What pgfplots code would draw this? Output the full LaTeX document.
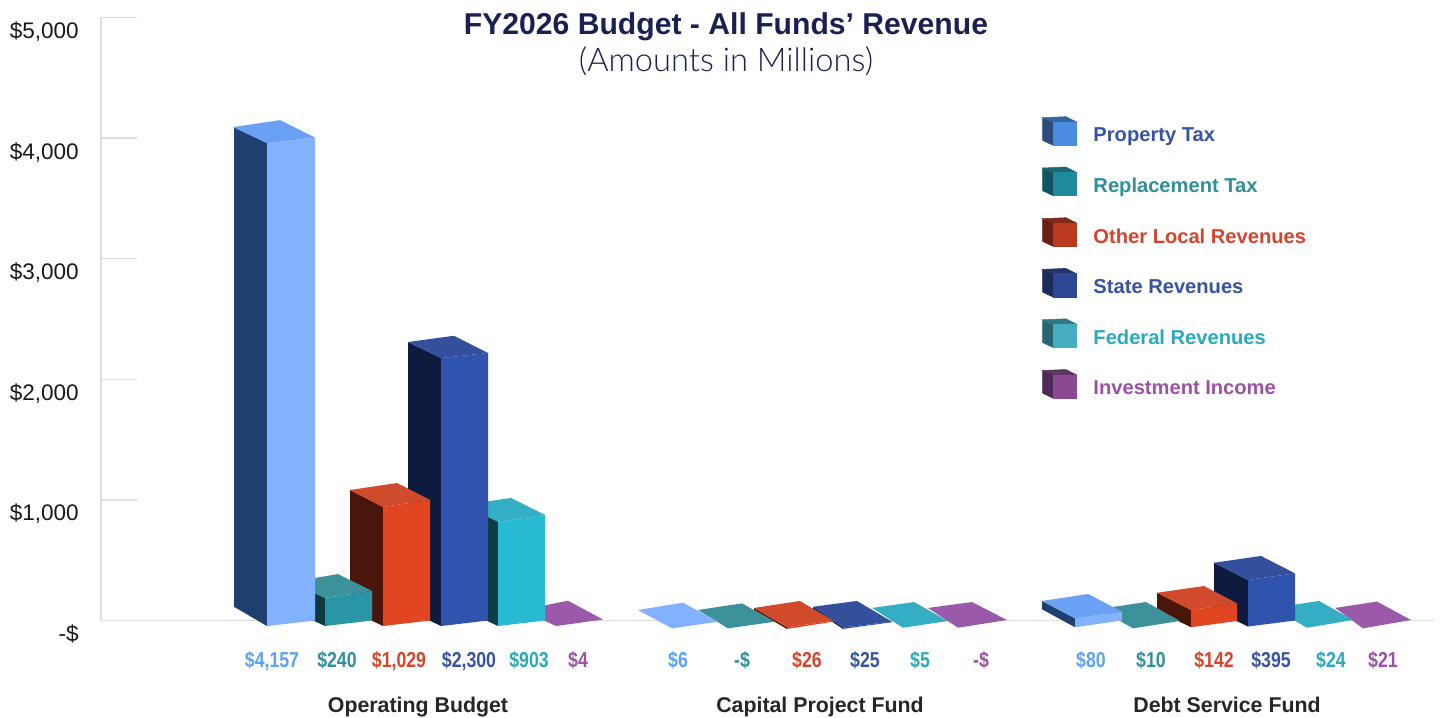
\documentclass[border=0pt]{standalone}
\usepackage{fontspec}
\usepackage{xcolor}
\usepackage{pgfplots}
\pgfplotsset{compat=1.18}
\setmainfont{Liberation Sans}
\newfontfamily\condb[FakeStretch=0.82]{Liberation Sans Bold}
\newfontfamily\lightf{Lato Light}

\definecolor{gridgray}{HTML}{DEDEDE}
\definecolor{navy}{HTML}{1A2152}
% bars: front / side / top
\definecolor{lbF}{HTML}{82B1FF}\definecolor{lbS}{HTML}{1F3F6E}\definecolor{lbT}{HTML}{6BA1F5}
\definecolor{teF}{HTML}{2B95A8}\definecolor{teS}{HTML}{0E3A3E}\definecolor{teT}{HTML}{3C919B}
\definecolor{reF}{HTML}{E24522}\definecolor{reS}{HTML}{4A150A}\definecolor{reT}{HTML}{D04A2C}
\definecolor{blF}{HTML}{3053AE}\definecolor{blS}{HTML}{0F1B3E}\definecolor{blT}{HTML}{34509C}
\definecolor{cyF}{HTML}{27BAD3}\definecolor{cyS}{HTML}{0E3E45}\definecolor{cyT}{HTML}{33AEC2}
\definecolor{puT}{HTML}{9B59AB}
% legend cubes
\definecolor{k1F}{HTML}{4A8DE0}\definecolor{k1S}{HTML}{2A4D7E}\definecolor{k1T}{HTML}{33659F}
\definecolor{k2F}{HTML}{1F8A9C}\definecolor{k2S}{HTML}{145460}\definecolor{k2T}{HTML}{1C6975}
\definecolor{k3F}{HTML}{B93A20}\definecolor{k3S}{HTML}{6B2014}\definecolor{k3T}{HTML}{7E2A17}
\definecolor{k4F}{HTML}{2E4793}\definecolor{k4S}{HTML}{1B2A5A}\definecolor{k4T}{HTML}{233567}
\definecolor{k5F}{HTML}{46ADC0}\definecolor{k5S}{HTML}{2A6672}\definecolor{k5T}{HTML}{307784}
\definecolor{k6F}{HTML}{8B4A8F}\definecolor{k6S}{HTML}{4E2A56}\definecolor{k6T}{HTML}{5B3462}
% text
\definecolor{lbL}{HTML}{5BA2F5}
\definecolor{teL}{HTML}{2F8F9C}
\definecolor{reL}{HTML}{D8432A}
\definecolor{blL}{HTML}{3753A8}
\definecolor{cyL}{HTML}{2AA9BD}
\definecolor{puL}{HTML}{9B52A5}

\pgfplotsset{
  face/.style={draw=none, fill=#1, forget plot, mark=none},
  cube/.style={legend image code/.code={
    \begin{scope}[yshift=1.75pt]
    \fill[#1S] (0pt,-5pt) -- (0pt,12pt) -- (8pt,8.75pt) -- (8pt,-8.75pt) -- cycle;
    \fill[#1T] (0pt,12pt) -- (17.5pt,12.75pt) -- (25.5pt,8.75pt) -- (8pt,8.75pt) -- cycle;
    \fill[#1F] (8pt,-8.75pt) rectangle (25.5pt,8.75pt);
    \end{scope}
  }},
}

\begin{document}
\begin{tikzpicture}
\useasboundingbox (0,0) rectangle (1080.75pt,537.75pt);
\begin{axis}[
    at={(75.75pt,72.375pt)}, anchor=south west,
    scale only axis, width=1000.5pt, height=452.25pt,
    xmin=101, xmax=1435, ymin=0, ymax=5000,
    clip=false,
    axis lines=left,
    axis line style={-, draw=gridgray, line width=1pt},
    tick align=inside,
    major tick length=27pt,
    x tick style={draw=none},
    y tick style={draw=gridgray, line width=1pt},
    ytick={0,1000,2000,3000,4000,5000},
    yticklabels={-\$,{\$1,000},{\$2,000},{\$3,000},{\$4,000},{\$5,000}},
    yticklabel style={anchor=base east, inner sep=0pt, xshift=-16.5pt, yshift=-15.8pt, font=\fontsize{16.9pt}{20pt}\selectfont, text=black!90},
    xtick={272,337,399,469,529,578,678,742,807,865,920,981,1091,1151,1214,1271,1331,1383},
    xticklabels={
      \textcolor{lbL}{\$4,157},\textcolor{teL}{\$240},\textcolor{reL}{\$1,029},\textcolor{blL}{\$2,300},\textcolor{cyL}{\$903},\textcolor{puL}{\$4},
      \textcolor{lbL}{\$6},\textcolor{teL}{-\$},\textcolor{reL}{\$26},\textcolor{blL}{\$25},\textcolor{cyL}{\$5},\textcolor{puL}{-\$},
      \textcolor{lbL}{\$80},\textcolor{teL}{\$10},\textcolor{reL}{\$142},\textcolor{blL}{\$395},\textcolor{cyL}{\$24},\textcolor{puL}{\$21}},
    xticklabel style={anchor=base, inner sep=0pt, yshift=-35.6pt, font=\condb\fontsize{16.2pt}{18pt}\selectfont},
    extra x ticks={418,820,1227},
    extra x tick labels={Operating Budget,Capital Project Fund,Debt Service Fund},
    extra x tick style={xticklabel style={anchor=base, inner sep=0pt, yshift=-33.4pt, font=\bfseries\fontsize{16pt}{18pt}\selectfont, text=black!85}},
    title={{\bfseries\fontsize{22.6pt}{27pt}\selectfont FY2026 Budget - All Funds’ Revenue}\\[3.5pt]{\lightf\fontsize{24.5pt}{28pt}\selectfont (Amounts in Millions)}},
    title style={at={(0.4685,1)}, anchor=north, align=center, text=navy, inner sep=0pt, yshift=-2pt},
    legend style={at={(axis cs:1042,4182)}, anchor=north west, draw=none, fill=none, inner sep=0pt,
      row sep=15.1pt, font=\bfseries\fontsize{15.1pt}{18pt}\selectfont,
      /tikz/every odd column/.append style={column sep=10.5pt}},
    legend cell align=left,
]
% legend
\addlegendimage{cube=k1}
\addlegendentry{\textcolor{blL}{Property Tax}}
\addlegendimage{cube=k2}
\addlegendentry{\textcolor{teL}{Replacement Tax}}
\addlegendimage{cube=k3}
\addlegendentry{\textcolor{reL}{Other Local Revenues}}
\addlegendimage{cube=k4}
\addlegendentry{\textcolor{blL}{State Revenues}}
\addlegendimage{cube=k5}
\addlegendentry{\textcolor{cyL}{Federal Revenues}}
\addlegendimage{cube=k6}
\addlegendentry{\textcolor{puL}{Investment Income}}

% Debt Service Fund, right to left
\addplot[face=puT] coordinates {(1363,-65) (1411,4) (1377,157) (1335,104)};
\addplot[face=cyT] coordinates {(1307,-60) (1353,4) (1319,162) (1273,104)};
\addplot[face=blS] coordinates {(1214,87) (1214,479) (1248,336) (1248,-50)};
\addplot[face=blF] coordinates {(1248,-50) (1295,0) (1295,391) (1248,336)};
\addplot[face=blT] coordinates {(1248,336) (1295,391) (1261,535) (1214,479)};
\addplot[face=reS] coordinates {(1157,81) (1157,230) (1191,87) (1191,-56)};
\addplot[face=reF] coordinates {(1191,-56) (1237,-4) (1237,143) (1191,87)};
\addplot[face=reT] coordinates {(1191,87) (1237,143) (1204,286) (1157,230)};
\addplot[face=teT] coordinates {(1133,-65) (1180,-4) (1146,153) (1099,95)};
\addplot[face=lbS] coordinates {(1042,93) (1042,162) (1075,18) (1075,-56)};
\addplot[face=lbF] coordinates {(1075,-56) (1122,0) (1122,73) (1075,18)};
\addplot[face=lbT] coordinates {(1075,18) (1122,73) (1088,220) (1042,162)};

% Capital Project Fund
\addplot[face=puT] coordinates {(958,-60) (1007,4) (972,153) (928,104)};
\addplot[face=cyT] coordinates {(903,-60) (948,-4) (914,153) (872,104)};
\addplot[face=blS] coordinates {(813,95) (813,114) (843,-58) (843,-70)};
\addplot[face=blF] coordinates {(843,-70) (892,-14) (892,-10) (843,-58)};
\addplot[face=blT] coordinates {(843,-58) (892,-10) (857,162) (813,114)};
\addplot[face=reS] coordinates {(754,87) (754,104) (787,-56) (787,-70)};
\addplot[face=reF] coordinates {(787,-70) (833,-10) (833,-2) (787,-56)};
\addplot[face=reT] coordinates {(787,-56) (833,-2) (800,162) (754,104)};
\addplot[face=teT] coordinates {(728,-65) (775,-10) (742,142) (698,87)};
\addplot[face=lbF] coordinates {(672,-65) (718,-10) (683,148) (638,87)};

% Operating Budget
\addplot[face=puT] coordinates {(556,-46) (603,8) (568,164) (522,87)};
\addplot[face=cyS] coordinates {(464,87) (464,958) (498,819) (498,-46)};
\addplot[face=cyF] coordinates {(498,-46) (545,0) (545,875) (498,819)};
\addplot[face=cyT] coordinates {(498,819) (545,875) (511,1016) (464,958)};
\addplot[face=blS] coordinates {(408,87) (408,2309) (441,2176) (441,-46)};
\addplot[face=blF] coordinates {(441,-46) (488,0) (488,2218) (441,2176)};
\addplot[face=blT] coordinates {(441,2176) (488,2218) (454,2361) (408,2309)};
\addplot[face=reS] coordinates {(350,87) (350,1082) (383,941) (383,-46)};
\addplot[face=reF] coordinates {(383,-46) (430,0) (430,1000) (383,941)};
\addplot[face=reT] coordinates {(383,941) (430,1000) (397,1140) (350,1082)};
\addplot[face=teS] coordinates {(291,87) (291,319) (325,187) (325,-46)};
\addplot[face=teF] coordinates {(325,-46) (372,0) (372,245) (325,187)};
\addplot[face=teT] coordinates {(325,187) (372,245) (338,385) (291,319)};
\addplot[face=lbS] coordinates {(234,114) (234,4091) (267,3958) (267,-46)};
\addplot[face=lbF] coordinates {(267,-46) (315,0) (315,4005) (267,3958)};
\addplot[face=lbT] coordinates {(267,3958) (315,4005) (280,4149) (233,4091)};
\end{axis}
\end{tikzpicture}
\end{document}
